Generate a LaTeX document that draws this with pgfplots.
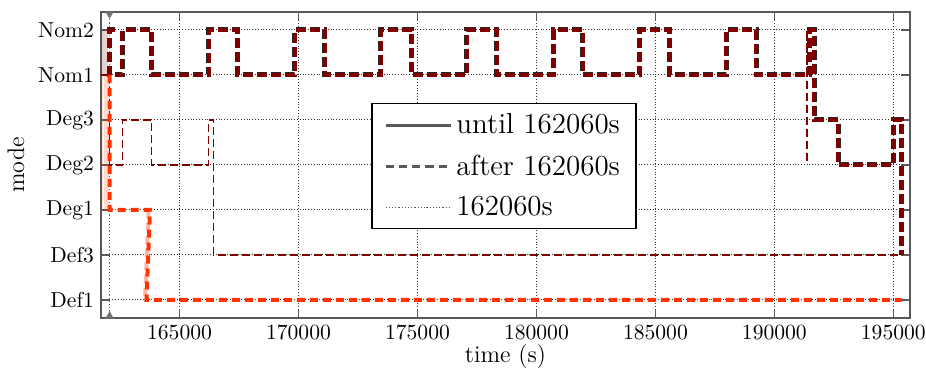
\documentclass[border=0pt]{standalone}
\usepackage{pgfplots}
\pgfplotsset{compat=1.18}
\definecolor{dred}{HTML}{800000}
\definecolor{ored}{HTML}{FF3300}
\begin{document}
\begin{tikzpicture}
\begin{axis}[
  scale only axis, width=404.5pt, height=153pt,
  xmin=161700, xmax=195700, ymin=-0.4, ymax=6.4,
  xtick={165000,170000,175000,180000,185000,190000,195000},
  xticklabels={165000,170000,175000,180000,185000,190000,195000},
  scaled x ticks=false,
  ytick={0,1,2,3,4,5,6},
  yticklabels={Def1,Def3,Deg1,Deg2,Deg3,Nom1,Nom2},
  grid=major, grid style={densely dotted, black!80, line width=0.5pt},
  axis line style={black!65, line width=0.9pt},
  tick style={black!65, line width=0.6pt},
  tick label style={font=\fontsize{10.8}{12}\selectfont},
  xlabel={time (s)}, ylabel={mode},
  label style={font=\fontsize{12}{14}\selectfont},
  xlabel style={yshift=4.5pt},
  legend style={at={(0.334,0.703)}, anchor=north west,
    font=\fontsize{14.5}{17}\selectfont, draw=black, line width=0.8pt,
    row sep=5pt, inner xsep=6pt, inner ysep=3pt},
  legend cell align=left,
  legend image code/.code={\draw[#1] (0cm,0cm) -- (0.72cm,0cm); \path (0.72cm,0cm) -- (1.15cm,0cm);},
  clip mode=individual,
]
\addlegendimage{black!65, line width=1.5pt}
\addlegendentry{until 162060s}
\addlegendimage{black!65, line width=1.5pt, dash pattern=on 4pt off 2.5pt}
\addlegendentry{after 162060s}
\addlegendimage{black!65, line width=0.6pt, densely dotted}
\addlegendentry{162060s}

% until 162060s (solid, faded)
\addplot[dred, opacity=0.18, line width=0.8pt, forget plot] coordinates {
(161740,5)(161740,6)(161800,6)(161800,5)(161880,5)(161880,6)(161960,6)(161960,5)(162060,5)};
\addplot[ored, opacity=0.18, line width=0.8pt, forget plot] coordinates {
(161760,2)(161760,5)(161840,5)(161840,2)(161920,2)(161920,5)(162000,5)(162000,2)(162060,2)};
\addplot[dred, line width=1pt, forget plot] coordinates {(161700,5)(162060,5)};

% 162060s marker line
\addplot[black!60, densely dotted, line width=0.6pt, forget plot] coordinates {(162060,-0.4)(162060,6.4)};
\addplot[only marks, mark=triangle*, mark size=2pt, black!55, mark options={rotate=180}, forget plot] coordinates {(162060,6.356)};
\addplot[only marks, mark=triangle*, mark size=2pt, black!55, forget plot] coordinates {(162060,-0.356)};

% thin dark red series
\addplot[dred, line width=0.8pt, dash pattern=on 4pt off 2pt, forget plot] coordinates {
(162060,5)(162060,3)(162600,3)(162600,4)(163820,4)(163820,3)(166220,3)(166220,4)(166420,4)(166420,1)(195250,1)};
\addplot[dred, line width=0.8pt, dash pattern=on 4pt off 2pt, forget plot] coordinates {
(191380,5)(191380,6)(191380,3)};

% thick series (black under dark red)
\addplot[black!85, line width=2.5pt, dash pattern=on 5pt off 2pt, forget plot] coordinates {
(162300,6)(162060,6)(162060,5)(162600,5)(162600,6)(163820,6)(163820,5)(166220,5)(166220,6)(167440,6)(167440,5)(169840,5)(169840,6)(171100,6)(171100,5)(173460,5)(173460,6)(174760,6)(174760,5)(177070,5)(177070,6)(178340,6)(178340,5)(180730,5)(180730,6)(181950,6)(181950,5)(184350,5)(184350,6)(185610,6)(185610,5)(187970,5)(187970,6)(189230,6)(189230,5)(191480,5)(191480,6)(191680,6)(191680,4)(192680,4)(192680,3)(195000,3)(195000,4)(195350,4)(195350,1)};
\addplot[dred, line width=2pt, dash pattern=on 5pt off 2pt, forget plot] coordinates {
(162300,6)(162060,6)(162060,5)(162600,5)(162600,6)(163820,6)(163820,5)(166220,5)(166220,6)(167440,6)(167440,5)(169840,5)(169840,6)(171100,6)(171100,5)(173460,5)(173460,6)(174760,6)(174760,5)(177070,5)(177070,6)(178340,6)(178340,5)(180730,5)(180730,6)(181950,6)(181950,5)(184350,5)(184350,6)(185610,6)(185610,5)(187970,5)(187970,6)(189230,6)(189230,5)(191480,5)(191480,6)(191680,6)(191680,4)(192680,4)(192680,3)(195000,3)(195000,4)(195350,4)(195350,1)};

% orange series
\addplot[ored!35, line width=2pt, dash pattern=on 4pt off 2.5pt, forget plot] coordinates {
(163700,2)(163550,0)};
\addplot[ored, line width=2pt, dash pattern=on 4pt off 2.5pt, forget plot] coordinates {
(162060,5)(162060,2)(163760,2)(163610,0)(195350,0)};
\end{axis}
\pgfresetboundingbox
\path ([xshift=-50.5pt,yshift=-29pt]current axis.south west) rectangle ([xshift=8pt,yshift=6pt]current axis.north east);
\end{tikzpicture}
\end{document}
